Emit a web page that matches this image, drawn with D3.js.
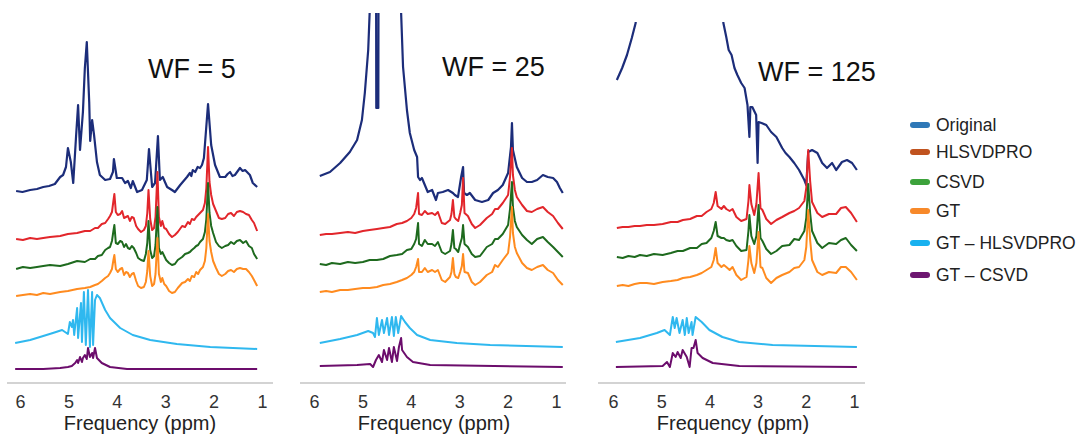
<!DOCTYPE html>
<html>
<head>
<meta charset="utf-8">
<script src="https://cdn.jsdelivr.net/npm/d3@7"></script>
<style>
  body { margin: 0; background: #fff; }
  text { font-family: "Liberation Sans", Arial, sans-serif; }
</style>
</head>
<body>
<svg id="chart" width="1083" height="444"></svg>
<script>
// ---------------- data (ppm, intensity above each trace's own baseline) ----------------
const tickLabels = [6, 5, 4, 3, 2, 1];
const titles = ['WF = 5', 'WF = 25', 'WF = 125'];
const seriesNames = ['Original', 'HLSVDPRO', 'CSVD', 'GT', 'GT \u2013 HLSVDPRO', 'GT \u2013 CSVD'];

// WF = 5
const orig5 = [[6.08,4],[5.95,3],[5.79,5],[5.65,6],[5.52,8],[5.40,9],[5.28,11],[5.17,18],[5.11,20],[5.05,28],[5.01,47],[4.95,33],[4.90,12],[4.84,60],[4.80,90],[4.76,45],[4.70,83],[4.66,127],[4.62,153],[4.57,93],[4.55,54],[4.51,75],[4.47,60],[4.41,33],[4.35,20],[4.24,15],[4.14,16],[4.08,23],[4.06,36],[4.00,17],[3.89,17],[3.83,12],[3.77,14],[3.71,7],[3.67,14],[3.58,3],[3.48,5],[3.38,15],[3.335,46],[3.27,8],[3.21,12],[3.15,59],[3.11,15],[3.05,18],[2.96,8],[2.86,5],[2.80,3],[2.69,10],[2.55,18],[2.49,22],[2.46,19],[2.43,25],[2.38,23],[2.33,28],[2.28,27],[2.24,30],[2.20,37],[2.115,91],[2.05,50],[1.97,30],[1.87,18],[1.76,18],[1.71,21],[1.66,23],[1.61,19],[1.56,20],[1.50,24],[1.455,27],[1.40,24],[1.35,25],[1.25,20],[1.19,12],[1.10,8]];
const ppm5 = [6.08,5.94,5.79,5.65,5.52,5.38,5.17,5.01,4.82,4.66,4.55,4.45,4.39,4.31,4.24,4.18,4.14,4.10,4.07,4.05,4.02,3.98,3.93,3.89,3.85,3.81,3.77,3.73,3.69,3.65,3.60,3.56,3.50,3.44,3.40,3.37,3.345,3.31,3.27,3.23,3.20,3.16,3.13,3.09,3.06,3.02,2.98,2.92,2.86,2.80,2.74,2.65,2.59,2.53,2.49,2.45,2.40,2.36,2.32,2.28,2.22,2.18,2.15,2.115,2.085,2.05,2.01,1.95,1.89,1.83,1.76,1.70,1.64,1.58,1.52,1.455,1.39,1.33,1.27,1.21,1.165,1.10];
const hlsvd5 = [1,0,2,1,2,3,4,6,7,9, 9,12,12,16,17,21,24,28,39,46, 28,25,26,29,22,23,24,19,23,22, 14,11,8,10,14,27,50,21,10,12, 23,68,23,14,19,12,11,6,3,5, 8,14,13,18,16,21,20,23,25,27, 30,37,52,93,58,45,36,29,22,21, 22,26,27,24,28,29,28,26,25,20, 17,9];
const csvd5 = [0,2,1,2,3,4,3,5,8,7, 10,10,13,14,19,21,22,28,38,44, 26,25,28,27,22,25,21,20,23,21, 16,11,9,8,15,26,48,19,11,13, 24,62,21,15,17,13,9,6,4,5, 9,12,15,16,17,19,21,23,24,27, 30,37,50,86,56,43,36,27,23,21, 23,24,27,25,28,29,26,28,23,21, 15,10];
const gt5 = [0,1,2,1,3,2,4,5,7,8, 9,11,12,15,18,20,23,27,36,41, 27,24,27,28,21,24,23,19,22,23, 15,10,8,9,14,25,45,20,10,12, 22,58,22,14,18,12,10,5,3,4, 8,13,14,17,15,20,19,24,22,26, 29,35,48,82,55,44,35,28,22,20, 22,25,26,24,27,28,27,27,24,20, 16,10];
const diffH5 = [[6.10,6],[5.79,9],[5.52,13],[5.32,16],[5.13,19],[5.07,17],[5.01,15],[4.97,27],[4.93,22],[4.905,29],[4.88,14],[4.82,41],[4.80,11],[4.74,46],[4.72,7],[4.68,57],[4.64,4],[4.595,59],[4.555,2],[4.51,57],[4.49,4],[4.45,49],[4.41,54],[4.35,51],[4.24,39],[4.14,31],[3.93,21],[3.67,14],[3.31,9],[2.76,5],[2.07,2],[1.10,0]];
const diffC5 = [[6.10,0],[5.52,0],[5.17,1],[5.01,2],[4.93,3],[4.86,6],[4.82,9],[4.80,6],[4.76,12],[4.72,7],[4.70,11],[4.66,14],[4.62,10],[4.595,21],[4.555,12],[4.51,16],[4.49,11],[4.45,21],[4.41,11],[4.31,6],[4.14,2],[3.79,0],[1.10,0]];

// WF = 25
const orig25 = [[5.88,29],[5.67,33],[5.46,42],[5.26,53],[5.11,65],[5.01,85],[4.95,112],[4.88,155],[4.82,230],[4.76,400],[4.723,400],[4.713,97],[4.671,97],[4.661,400],[4.40,400],[4.22,300],[4.20,192],[4.16,138],[4.08,95],[4.02,72],[3.93,55],[3.87,48],[3.85,28],[3.81,25],[3.77,27],[3.71,20],[3.65,13],[3.56,15],[3.48,5],[3.44,12],[3.34,13],[3.23,15],[3.13,12],[3.09,10],[3.025,8],[2.96,28],[2.92,38],[2.90,12],[2.84,10],[2.78,12],[2.67,5],[2.53,3],[2.40,5],[2.30,12],[2.20,15],[2.10,20],[1.99,32],[1.93,58],[1.91,82],[1.89,55],[1.81,38],[1.70,27],[1.60,23],[1.50,23],[1.39,25],[1.27,30],[1.17,28],[1.06,27],[0.98,23],[0.92,17],[0.86,12]];
const ppm25 = [5.88,5.75,5.63,5.46,5.30,5.15,4.99,4.85,4.70,4.57,4.43,4.29,4.18,4.08,3.99,3.93,3.89,3.85,3.83,3.77,3.71,3.65,3.56,3.50,3.44,3.36,3.29,3.19,3.16,3.13,3.10,3.07,3.02,2.98,2.945,2.92,2.89,2.82,2.74,2.67,2.57,2.43,2.32,2.26,2.20,2.10,1.99,1.95,1.91,1.89,1.85,1.81,1.70,1.60,1.50,1.39,1.27,1.17,1.06,0.96,0.86];
const hlsvd25 = [0,1,1,2,3,2,4,5,6,7, 8,11,12,14,17,21,27,42,21,20, 24,21,22,20,23,12,11,15,21,35, 18,16,14,22,30,57,22,19,11,7, 10,17,21,26,26,32,40,58,87,60, 45,38,30,24,23,26,28,23,19,12, 6];
const csvd25 = [1,0,2,1,3,2,3,5,5,6, 9,10,11,15,16,21,26,42,21,19, 25,21,21,19,23,13,11,14,21,35, 17,16,13,21,27,40,21,18,11,8, 9,18,21,26,26,31,40,56,83,58, 44,38,30,25,21,26,28,23,18,13, 8];
const gt25 = [0,1,0,2,2,3,4,4,5,7, 8,10,12,14,17,20,25,33,20,20, 24,20,22,20,22,12,10,15,20,34, 18,15,14,20,26,38,20,19,10,7, 10,17,20,27,25,32,39,55,85,59, 45,39,29,24,22,25,27,22,19,12, 7];
const diffH25 = [[5.88,4],[5.46,8],[5.11,12],[4.88,16],[4.78,14],[4.74,10],[4.70,29],[4.66,12],[4.595,27],[4.555,14],[4.49,29],[4.45,12],[4.39,30],[4.35,11],[4.31,30],[4.26,14],[4.20,31],[4.12,25],[4.02,19],[3.87,12],[3.60,7],[3.05,4],[2.36,2],[0.86,0]];
const diffC25 = [[5.88,1],[5.11,2],[4.84,3],[4.78,0],[4.72,7],[4.66,12],[4.595,5],[4.555,17],[4.49,7],[4.45,19],[4.39,5],[4.35,20],[4.285,6],[4.245,20],[4.20,29],[4.18,17],[4.08,10],[3.955,5],[3.60,2],[0.86,0]];

// WF = 125
const orig125 = [[5.92,120],[5.81,132],[5.71,145],[5.61,162],[5.53,177],[5.44,250],[3.79,250],[3.71,177],[3.65,163],[3.60,150],[3.54,145],[3.48,132],[3.42,125],[3.34,117],[3.27,112],[3.21,95],[3.17,63],[3.15,93],[3.11,93],[3.03,85],[3.00,37],[2.98,78],[2.92,77],[2.82,75],[2.72,68],[2.61,63],[2.49,52],[2.42,47],[2.34,43],[2.24,37],[2.14,30],[2.03,20],[1.99,15],[1.95,48],[1.87,50],[1.76,47],[1.66,37],[1.56,32],[1.455,37],[1.37,30],[1.25,38],[1.145,40],[1.04,37],[0.94,30]];
const ppm125 = [5.92,5.80,5.68,5.55,5.44,5.30,5.15,4.97,4.80,4.66,4.55,4.40,4.26,4.16,4.06,3.96,3.91,3.87,3.83,3.75,3.70,3.65,3.58,3.52,3.44,3.34,3.23,3.19,3.17,3.13,3.07,3.025,2.98,2.94,2.90,2.82,2.72,2.61,2.49,2.34,2.24,2.14,2.03,1.99,1.95,1.91,1.87,1.76,1.66,1.52,1.37,1.27,1.17,1.06,0.94];
const hlsvd125 = [0,1,1,2,2,3,3,4,6,6, 8,9,12,12,16,19,25,36,22,19, 22,19,17,19,11,7,9,27,43,24, 13,24,55,20,18,9,4,8,11,15, 17,20,27,40,78,47,26,15,11,14, 14,20,21,15,6];
const csvd125 = [1,0,2,1,3,2,4,3,5,7, 7,10,10,14,15,20,27,36,22,20, 20,18,17,18,12,7,8,27,43,22, 14,22,53,20,17,9,4,7,12,13, 19,18,27,40,74,45,27,15,10,15, 14,18,20,13,7];
const gt125 = [0,1,0,2,3,3,2,4,5,6, 8,9,11,13,16,19,26,38,23,19, 21,19,16,19,11,6,9,26,40,23, 13,23,54,19,18,8,3,8,11,14, 18,19,26,39,76,46,26,14,11,14, 13,19,19,14,6];
const diffH125 = [[5.94,5],[5.44,9],[5.09,14],[4.93,17],[4.82,12],[4.76,30],[4.72,19],[4.68,29],[4.62,14],[4.555,27],[4.51,12],[4.47,29],[4.43,14],[4.37,25],[4.35,12],[4.285,30],[4.16,25],[4.00,17],[3.73,10],[3.38,5],[2.69,2],[0.94,0]];
const diffC125 = [[5.94,1],[4.97,2],[4.88,6],[4.82,1],[4.76,15],[4.70,11],[4.66,16],[4.595,10],[4.555,18],[4.47,11],[4.41,1],[4.37,20],[4.33,20],[4.285,28],[4.245,15],[4.14,10],[3.93,5],[3.38,2],[0.94,1]];

// ---------------- layout / styles ----------------
const keys = ['orig', 'hlsvd', 'csvd', 'gt', 'dh', 'dc'];
const lineColors = {orig: '#1c2d7a', hlsvd: '#e2262b', csvd: '#1e6a1e', gt: '#ff8b1f', dh: '#2fb8ef', dc: '#6c0d6c'};
const legendColors = ['#2e78b7', '#c0531f', '#3ca23b', '#f7892a', '#18b1ef', '#6d1670'];

const layout = [
  {px: [20, 262], axis: [7, 273], clipTop: 0, titleX: 148, titleY: 78, labelX: 140,
   base: {orig: 195, hlsvd: 240, csvd: 269, gt: 296, dh: 349, dc: 369}},
  {px: [314, 556], axis: [300, 566], clipTop: 13, titleX: 442, titleY: 76, labelX: 434,
   base: {orig: 205, hlsvd: 235, csvd: 265, gt: 292, dh: 347, dc: 367}},
  {px: [613, 854], axis: [598, 865], clipTop: 22, titleX: 758, titleY: 81, labelX: 733,
   base: {orig: 200, hlsvd: 228, csvd: 258, gt: 286, dh: 347, dc: 368}}
];

const panels = [
  {orig: orig5, ppm: ppm5, hlsvd: hlsvd5, csvd: csvd5, gt: gt5, dh: diffH5, dc: diffC5},
  {orig: orig25, ppm: ppm25, hlsvd: hlsvd25, csvd: csvd25, gt: gt25, dh: diffH25, dc: diffC25},
  {orig: orig125, ppm: ppm125, hlsvd: hlsvd125, csvd: csvd125, gt: gt125, dh: diffH125, dc: diffC125}
];

const axisY = 383;
const svg = d3.select('#chart');
const y = d3.scaleLinear().domain([0, 400]).range([400, 0]);

panels.forEach((p, i) => {
  const L = layout[i];
  const x = d3.scaleLinear().domain([6, 1]).range(L.px);
  const g = svg.append('g');

  g.append('clipPath').attr('id', 'clip' + i).append('rect')
      .attr('x', L.axis[0]).attr('y', L.clipTop)
      .attr('width', L.axis[1] - L.axis[0]).attr('height', axisY - L.clipTop);

  const plot = g.append('g').attr('clip-path', `url(#clip${i})`);

  const series = {
    orig: p.orig,
    hlsvd: p.ppm.map((v, j) => [v, p.hlsvd[j]]),
    csvd: p.ppm.map((v, j) => [v, p.csvd[j]]),
    gt: p.ppm.map((v, j) => [v, p.gt[j]]),
    dh: p.dh,
    dc: p.dc
  };

  keys.forEach(k => {
    const off = 400 - L.base[k];
    const line = d3.line().x(d => x(d[0])).y(d => y(off + d[1]));
    plot.append('path')
        .datum(series[k])
        .attr('d', line)
        .attr('fill', 'none')
        .attr('stroke', lineColors[k])
        .attr('stroke-width', k === 'orig' ? 2.2 : 2)
        .attr('stroke-linejoin', 'round');
  });

  // axis
  g.append('line')
      .attr('x1', L.axis[0]).attr('x2', L.axis[1])
      .attr('y1', axisY).attr('y2', axisY)
      .attr('stroke', '#a8a8a8').attr('stroke-width', 1.2);

  const ax = g.append('g')
      .attr('transform', `translate(0,${axisY})`)
      .call(d3.axisBottom(x).tickValues(tickLabels).tickSize(0).tickPadding(12).tickFormat(d3.format('d')));
  ax.select('.domain').remove();
  ax.selectAll('text')
      .style('font-family', '"Liberation Sans", Arial, sans-serif')
      .style('font-size', '18px')
      .attr('fill', '#333');

  g.append('text')
      .attr('x', L.labelX).attr('y', 430)
      .attr('text-anchor', 'middle')
      .style('font-size', '20px')
      .attr('fill', '#222')
      .text('Frequency (ppm)');

  g.append('text')
      .attr('x', L.titleX).attr('y', L.titleY)
      .style('font-size', '27px')
      .attr('fill', '#111')
      .text(titles[i]);
});

// legend
const legendY = [125, 152, 182, 211, 243, 275];
const legend = svg.append('g');
seriesNames.forEach((name, i) => {
  legend.append('line')
      .attr('x1', 913).attr('x2', 927)
      .attr('y1', legendY[i]).attr('y2', legendY[i])
      .attr('stroke', legendColors[i])
      .attr('stroke-width', 6)
      .attr('stroke-linecap', 'round');
  legend.append('text')
      .attr('x', 936).attr('y', legendY[i] + 6)
      .style('font-size', '17.5px')
      .attr('fill', '#222')
      .text(name);
});
</script>
</body>
</html>
